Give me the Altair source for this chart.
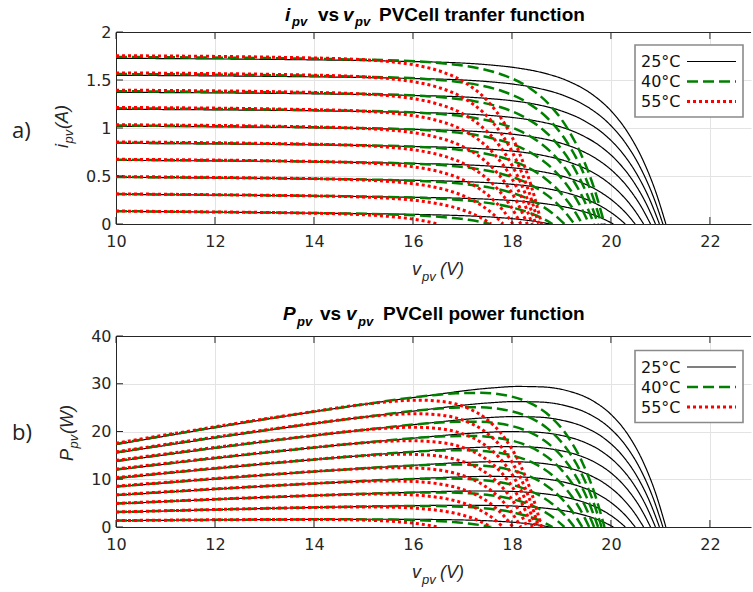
import altair as alt
import pandas as pd

TEMP_LABELS = ["25°C", "40°C", "55°C"]
COLORS = ["#000000", "#008000", "#ff0000"]
DASHES = [[1, 0], [11, 5], [3, 3]]
WIDTHS = [1.2, 2.5, 3.0]

X_TICKS = [10, 12, 14, 16, 18, 20, 22]
I_TICKS = [0, 0.5, 1, 1.5, 2]
P_TICKS = [0, 10, 20, 30, 40]

# ---- 25 °C curves (10 irradiance levels): voltage / current
V_25 = [
    [10, 13.77, 15.27, 15.77, 16.27, 16.77, 17.27, 17.67, 18.02, 18.32, 18.57, 18.77],
    [10, 15.05, 16.55, 17.05, 17.55, 18.05, 18.55, 18.95, 19.30, 19.60, 19.85, 20.05],
    [10, 15.29, 16.79, 17.29, 17.79, 18.29, 18.79, 19.19, 19.54, 19.84, 20.09, 20.29],
    [10, 15.49, 16.99, 17.49, 17.99, 18.49, 18.99, 19.39, 19.74, 20.04, 20.29, 20.49],
    [10, 15.66, 17.16, 17.66, 18.16, 18.66, 19.16, 19.56, 19.91, 20.21, 20.46, 20.66],
    [10, 15.80, 17.30, 17.80, 18.30, 18.80, 19.30, 19.70, 20.05, 20.35, 20.60, 20.80],
    [10, 15.90, 17.40, 17.90, 18.40, 18.90, 19.40, 19.80, 20.15, 20.45, 20.70, 20.90],
    [10, 15.98, 17.48, 17.98, 18.48, 18.98, 19.48, 19.88, 20.23, 20.53, 20.78, 20.98],
    [10, 16.05, 17.55, 18.05, 18.55, 19.05, 19.55, 19.95, 20.30, 20.60, 20.85, 21.05],
    [10, 16.11, 17.61, 18.11, 18.61, 19.11, 19.61, 20.01, 20.36, 20.66, 20.91, 21.11],
]
I_25 = [
    [0.132, 0.1146, 0.1062, 0.1025, 0.0976, 0.0910, 0.0811, 0.0695, 0.0549, 0.0378, 0.0190, 0.0],
    [0.309, 0.2851, 0.2737, 0.2672, 0.2576, 0.2428, 0.2189, 0.1890, 0.1504, 0.1041, 0.0524, 0.0],
    [0.486, 0.4603, 0.4457, 0.4363, 0.4219, 0.3987, 0.3603, 0.3116, 0.2485, 0.1721, 0.0868, 0.0],
    [0.663, 0.6356, 0.6178, 0.6057, 0.5864, 0.5548, 0.5019, 0.4345, 0.3466, 0.2402, 0.1212, 0.0],
    [0.840, 0.8110, 0.7901, 0.7751, 0.7509, 0.7109, 0.6436, 0.5574, 0.4449, 0.3084, 0.1557, 0.0],
    [1.018, 0.9877, 0.9636, 0.9457, 0.9166, 0.8682, 0.7862, 0.6811, 0.5437, 0.3770, 0.1903, 0.0],
    [1.195, 1.1635, 1.1362, 1.1156, 1.0815, 1.0247, 0.9282, 0.8043, 0.6422, 0.4453, 0.2248, 0.0],
    [1.372, 1.3393, 1.3089, 1.2854, 1.2465, 1.1812, 1.0703, 0.9275, 0.7406, 0.5136, 0.2593, 0.0],
    [1.549, 1.5153, 1.4816, 1.4553, 1.4115, 1.3378, 1.2123, 1.0507, 0.8391, 0.5820, 0.2939, 0.0],
    [1.726, 1.6912, 1.6544, 1.6252, 1.5765, 1.4944, 1.3544, 1.1740, 0.9376, 0.6503, 0.3284, 0.0],
]

# ---- 40 °C curves
V_40 = [
    [10, 12.57, 14.07, 14.57, 15.07, 15.57, 16.07, 16.47, 16.82, 17.12, 17.37, 17.57],
    [10, 13.82, 15.32, 15.82, 16.32, 16.82, 17.32, 17.72, 18.07, 18.37, 18.62, 18.82],
    [10, 14.06, 15.56, 16.06, 16.56, 17.06, 17.56, 17.96, 18.31, 18.61, 18.86, 19.06],
    [10, 14.26, 15.76, 16.26, 16.76, 17.26, 17.76, 18.16, 18.51, 18.81, 19.06, 19.26],
    [10, 14.42, 15.92, 16.42, 16.92, 17.42, 17.92, 18.32, 18.67, 18.97, 19.22, 19.42],
    [10, 14.56, 16.06, 16.56, 17.06, 17.56, 18.06, 18.46, 18.81, 19.11, 19.36, 19.56],
    [10, 14.66, 16.16, 16.66, 17.16, 17.66, 18.16, 18.56, 18.91, 19.21, 19.46, 19.66],
    [10, 14.74, 16.24, 16.74, 17.24, 17.74, 18.24, 18.64, 18.99, 19.29, 19.54, 19.74],
    [10, 14.81, 16.31, 16.81, 17.31, 17.81, 18.31, 18.71, 19.06, 19.36, 19.61, 19.81],
    [10, 14.87, 16.37, 16.87, 17.37, 17.87, 18.37, 18.77, 19.12, 19.42, 19.67, 19.87],
]
I_40 = [
    [0.134, 0.1221, 0.1140, 0.1105, 0.1059, 0.0994, 0.0896, 0.0775, 0.0619, 0.0431, 0.0219, 0.0],
    [0.312, 0.2940, 0.2836, 0.2778, 0.2692, 0.2554, 0.2324, 0.2026, 0.1630, 0.1139, 0.0580, 0.0],
    [0.490, 0.4705, 0.4576, 0.4495, 0.4367, 0.4155, 0.3791, 0.3310, 0.2666, 0.1866, 0.0951, 0.0],
    [0.669, 0.6481, 0.6328, 0.6224, 0.6054, 0.5767, 0.5267, 0.4603, 0.3710, 0.2598, 0.1325, 0.0],
    [0.847, 0.8249, 0.8073, 0.7945, 0.7734, 0.7371, 0.6736, 0.5890, 0.4749, 0.3327, 0.1696, 0.0],
    [1.026, 1.0028, 0.9828, 0.9677, 0.9423, 0.8985, 0.8215, 0.7184, 0.5795, 0.4060, 0.2070, 0.0],
    [1.205, 1.1808, 1.1583, 1.1409, 1.1114, 1.0601, 0.9694, 0.8480, 0.6841, 0.4794, 0.2445, 0.0],
    [1.383, 1.3580, 1.3332, 1.3134, 1.2797, 1.2209, 1.1167, 0.9770, 0.7882, 0.5524, 0.2817, 0.0],
    [1.562, 1.5362, 1.5089, 1.4869, 1.4490, 1.3826, 1.2648, 1.1067, 0.8929, 0.6259, 0.3192, 0.0],
    [1.740, 1.7134, 1.6838, 1.6594, 1.6173, 1.5434, 1.4121, 1.2357, 0.9970, 0.6989, 0.3565, 0.0],
]

# ---- 55 °C curves
V_55 = [
    [10, 11.50, 13.00, 13.50, 14.00, 14.50, 15.00, 15.40, 15.75, 16.05, 16.30, 16.50],
    [10, 12.58, 14.08, 14.58, 15.08, 15.58, 16.08, 16.48, 16.83, 17.13, 17.38, 17.58],
    [10, 12.82, 14.32, 14.82, 15.32, 15.82, 16.32, 16.72, 17.07, 17.37, 17.62, 17.82],
    [10, 13.02, 14.52, 15.02, 15.52, 16.02, 16.52, 16.92, 17.27, 17.57, 17.82, 18.02],
    [10, 13.18, 14.68, 15.18, 15.68, 16.18, 16.68, 17.08, 17.43, 17.73, 17.98, 18.18],
    [10, 13.31, 14.81, 15.31, 15.81, 16.31, 16.81, 17.21, 17.56, 17.86, 18.11, 18.31],
    [10, 13.41, 14.91, 15.41, 15.91, 16.41, 16.91, 17.31, 17.66, 17.96, 18.21, 18.41],
    [10, 13.48, 14.98, 15.48, 15.98, 16.48, 16.98, 17.38, 17.73, 18.03, 18.28, 18.48],
    [10, 13.54, 15.04, 15.54, 16.04, 16.54, 17.04, 17.44, 17.79, 18.09, 18.34, 18.54],
    [10, 13.60, 15.10, 15.60, 16.10, 16.60, 17.10, 17.50, 17.85, 18.15, 18.40, 18.60],
]
I_55 = [
    [0.135, 0.1281, 0.1202, 0.1168, 0.1124, 0.1061, 0.0963, 0.0840, 0.0678, 0.0475, 0.0243, 0.0],
    [0.314, 0.3019, 0.2921, 0.2868, 0.2789, 0.2659, 0.2437, 0.2141, 0.1737, 0.1225, 0.0628, 0.0],
    [0.494, 0.4804, 0.4688, 0.4615, 0.4499, 0.4301, 0.3952, 0.3478, 0.2825, 0.1994, 0.1024, 0.0],
    [0.674, 0.6592, 0.6456, 0.6364, 0.6211, 0.5945, 0.5468, 0.4816, 0.3915, 0.2765, 0.1420, 0.0],
    [0.854, 0.8381, 0.8227, 0.8115, 0.7925, 0.7591, 0.6986, 0.6155, 0.5005, 0.3536, 0.1817, 0.0],
    [1.034, 1.0172, 0.9998, 0.9867, 0.9641, 0.9238, 0.8505, 0.7496, 0.6097, 0.4308, 0.2213, 0.0],
    [1.214, 1.1964, 1.1771, 1.1620, 1.1358, 1.0887, 1.0026, 0.8838, 0.7189, 0.5080, 0.2611, 0.0],
    [1.394, 1.3757, 1.3545, 1.3374, 1.3075, 1.2535, 1.1546, 1.0180, 0.8282, 0.5853, 0.3008, 0.0],
    [1.574, 1.5551, 1.5320, 1.5130, 1.4794, 1.4186, 1.3069, 1.1523, 0.9376, 0.6627, 0.3406, 0.0],
    [1.753, 1.7335, 1.7085, 1.6875, 1.6502, 1.5826, 1.4582, 1.2858, 1.0463, 0.7396, 0.3801, 0.0],
]

rows = []
for label, VV, II in zip(TEMP_LABELS, [V_25, V_40, V_55], [I_25, I_40, I_55]):
    for c, (vs, cs) in enumerate(zip(VV, II)):
        for k, (v, i) in enumerate(zip(vs, cs)):
            rows.append({"temp": label, "curve": c, "k": k, "v": v, "i": i})
df = pd.DataFrame(rows)

W = 635
AX = "#262626"
GRID = "#e3e3e3"
TICK_FONT = "DejaVu Sans"
TITLE_FONT = "Liberation Sans"
ONE = alt.Data(values=[{"k": 0}])


def txt(s, x, y, size, weight="normal", style="normal", font=TITLE_FONT,
        angle=0, color="#000000", baseline="alphabetic"):
    return alt.Chart(ONE).mark_text(
        text=s, align="left", baseline=baseline, font=font, fontSize=size,
        fontWeight=weight, fontStyle=style, angle=angle, color=color
    ).encode(x=alt.value(x), y=alt.value(y))


def legend_layers(top):
    out = [alt.Chart(ONE).mark_rect(fill="white", stroke="#8a8a8a", strokeWidth=1.6).encode(
        x=alt.value(519), x2=alt.value(627), y=alt.value(top), y2=alt.value(top + 72))]
    for k, (lab, col, dash, w) in enumerate(zip(TEMP_LABELS, COLORS, DASHES, WIDTHS)):
        yk = top + 16.5 + 20 * k
        out.append(alt.Chart(ONE).mark_rule(color=col, strokeWidth=w, strokeDash=dash,
                                            strokeCap="butt").encode(
            x=alt.value(571), x2=alt.value(620), y=alt.value(yk)))
        out.append(txt(lab, 525, yk + 0.5, 16, font="DejaVu Sans", baseline="middle",
                       color="#111111"))
    return out


def panel(ycol, yticks, ydom, yfmt, H, legend_top, title_parts, ytitle_parts,
          label, label_y, anchor=False):
    xscale = alt.Scale(domain=[10, 22.83], nice=False, zero=False)
    yscale = alt.Scale(domain=ydom, nice=False, zero=False)
    xaxis = alt.Axis(values=X_TICKS, format="d", title=None, ticks=False,
                     labelPadding=9, labelFont=TICK_FONT, labelFontSize=16,
                     labelColor=AX, domainColor=AX, domainWidth=1,
                     gridColor=GRID, gridWidth=1, labelFlush=False,
                     labelOverlap=False)
    yaxis = alt.Axis(values=yticks, format=yfmt, title=None, ticks=False,
                     labelPadding=5, labelFont=TICK_FONT, labelFontSize=16,
                     labelColor=AX, domainColor=AX, domainWidth=1,
                     gridColor=GRID, gridWidth=1, labelFlush=False,
                     labelOverlap=False)

    base = alt.Chart(df)
    if ycol == "p":
        base = base.transform_calculate(p="datum.v * datum.i")

    X = alt.X("v:Q", scale=xscale, axis=xaxis)
    Y = alt.Y(f"{ycol}:Q", scale=yscale, axis=yaxis)

    layers = []
    for t in TEMP_LABELS:
        layers.append(
            base.transform_filter(alt.datum.temp == t)
            .mark_line(interpolate="monotone", clip=True, strokeCap="butt")
            .encode(
                x=X,
                y=Y,
                color=alt.Color("temp:N", scale=alt.Scale(domain=TEMP_LABELS, range=COLORS), legend=None),
                strokeDash=alt.StrokeDash("temp:N", scale=alt.Scale(domain=TEMP_LABELS, range=DASHES), legend=None),
                strokeWidth=alt.StrokeWidth("temp:N", scale=alt.Scale(type="ordinal", domain=TEMP_LABELS, range=WIDTHS), legend=None),
                detail="curve:N",
                order="k:Q",
            )
        )

    # inward tick marks at the tick values (bottom, top and left)
    xt = pd.DataFrame({"v": X_TICKS})
    yt = pd.DataFrame({ycol: yticks})
    layers.append(alt.Chart(xt).mark_rule(color=AX, strokeWidth=1).encode(
        x=X, y=alt.value(H), y2=alt.value(H - 7)))
    layers.append(alt.Chart(xt).mark_rule(color=AX, strokeWidth=1).encode(
        x=X, y=alt.value(0.5), y2=alt.value(7)))
    layers.append(alt.Chart(yt).mark_rule(color=AX, strokeWidth=1).encode(
        y=Y, x=alt.value(0.5), x2=alt.value(7)))
    # top frame line of the axes box
    layers.append(alt.Chart(ONE).mark_rule(color=AX, strokeWidth=1).encode(
        x=alt.value(0), x2=alt.value(W), y=alt.value(0.5)))

    layers += legend_layers(legend_top)

    # title with subscripts
    for s, x, y, size, weight, style in title_parts:
        layers.append(txt(s, x, y, size, weight, style))
    # y axis title (rotated)
    for s, x, y, size in ytitle_parts:
        layers.append(txt(s, x, y, size, "normal", "italic", angle=270, color=AX))
    # x axis title
    for s, x, dy, size in [("v", 296, 51, 18), ("pv", 306, 57, 13), ("(V)", 324, 51, 18)]:
        layers.append(txt(s, x, H + dy, size, "normal", "italic", color=AX))
    layers.append(txt(label, -104, label_y, 22, font="Open Sans", color="#222222"))
    if anchor:
        layers.append(alt.Chart(ONE).mark_rect(opacity=0).encode(
            x=alt.value(-116), x2=alt.value(0), y=alt.value(-32), y2=alt.value(0)))

    return alt.layer(*layers).properties(width=W, height=H)


title_a = [
    ("i", 169, -11, 19, "bold", "italic"),
    ("pv", 176, -6.5, 13, "bold", "italic"),
    ("vs", 202, -11, 19, "bold", "normal"),
    ("v", 227, -11, 19, "bold", "italic"),
    ("pv", 239, -6.5, 13, "bold", "italic"),
    ("PVCell tranfer function", 263, -11, 19, "bold", "normal"),
]
title_b = [
    ("P", 167, -16, 19, "bold", "italic"),
    ("pv", 181, -10.5, 13, "bold", "italic"),
    ("vs", 204, -16, 19, "bold", "normal"),
    ("v", 230, -16, 19, "bold", "italic"),
    ("pv", 242, -10.5, 13, "bold", "italic"),
    ("PVCell power function", 267, -16, 19, "bold", "normal"),
]
ytitle_a = [("i", -48, 116, 18), ("pv", -43, 111.5, 13), ("(A)", -48, 97, 18)]
ytitle_b = [("P", -43, 125, 18), ("pv", -38, 112.5, 13), ("(W)", -43, 98, 18)]

panel_a = panel("i", I_TICKS, [0, 2], ".1~f", 192, 13, title_a, ytitle_a,
                "a)", 106, anchor=True)
panel_b = panel("p", P_TICKS, [0, 40], "d", 191, 14.5, title_b, ytitle_b,
                "b)", 104)

chart = (
    alt.vconcat(panel_a, panel_b, spacing=112, bounds="flush")
    .resolve_scale(color="independent", strokeDash="independent",
                   strokeWidth="independent")
    .properties(padding=0, background="white")
    .configure_view(stroke=None)
)

chart.save("out.html", embed_options={"renderer": "svg", "actions": False})
